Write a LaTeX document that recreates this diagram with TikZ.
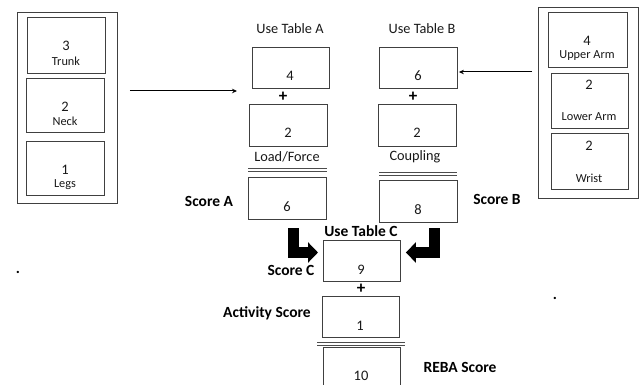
\documentclass[tikz,border=0pt]{standalone}
\usepackage{fontspec}
\setmainfont{Carlito}
\usetikzlibrary{arrows.meta}
\begin{document}
\begin{tikzpicture}[x=1pt,y=-1pt,
  box/.style={draw=black!75, line width=0.9pt, inner sep=0pt, anchor=north west},
  num/.style={font=\fontsize{14.5}{16}\selectfont, text=black!90, inner sep=0pt},
  small/.style={font=\fontsize{12.3}{14}\selectfont, text=black!90, inner sep=0pt},
  headtxt/.style={font=\fontsize{14.3}{16}\selectfont, text=black!90, inner sep=0pt},
  lbl/.style={font=\bfseries\fontsize{15.5}{17}\selectfont, text=black, inner sep=0pt},
  plus/.style={font=\bfseries\fontsize{17}{18}\selectfont, inner sep=0pt},
  dbl/.style={draw=black!70, line width=0.8pt},
  thin/.style={draw=black, line width=1pt, -{Stealth[length=5pt,width=4.5pt]}},
  bigarrow/.style={draw=black, line width=10.5pt, -{Triangle[length=10pt,width=20pt]}}
]
\clip (0,0) rectangle (643,385);
\fill[white] (0,0) rectangle (643,385);
% outer boxes
\node[box, minimum width=100pt, minimum height=191pt] (outerL) at (17,12) {};
\node[box, minimum width=78pt, minimum height=56pt] (trunk) at (27,17) {};
\node[box, minimum width=78pt, minimum height=54pt] (neck) at (26,78) {};
\node[box, minimum width=78pt, minimum height=54pt] (legs) at (26,141) {};
\node[num] (t3) at (66,46) {3};
\node[small] (tt) at (66,61) {Trunk};
\node[num] (n2) at (65,107) {2};
\node[small] (nt) at (65,121) {Neck};
\node[num] (l1) at (65,170) {1};
\node[small] (lt) at (65,185) {Legs};

\node[box, minimum width=100pt, minimum height=191pt] (outerR) at (538,7) {};
\node[box, minimum width=79pt, minimum height=55pt] (upper) at (548,12) {};
\node[box, minimum width=77pt, minimum height=55pt] (lower) at (551,73) {};
\node[box, minimum width=77pt, minimum height=56pt] (wrist) at (551,133) {};
\node[num] (u4) at (587,41) {4};
\node[small] (ut) at (587,56) {Upper Arm};
\node[num] (lo2) at (589,85) {2};
\node[small] (lot) at (589,117) {Lower Arm};
\node[num] (w2) at (589,146) {2};
\node[small] (wt) at (589,178) {Wrist};

% table A column
\node[headtxt] (ua) at (290,29) {Use Table A};
\node[box, minimum width=77pt, minimum height=41pt] (a1) at (252,47) {};
\node[num] (a1n) at (290,76) {4};
\node[plus] (pa) at (283,97) {+};
\node[box, minimum width=78pt, minimum height=42pt] (a2) at (249,104) {};
\node[num] (a2n) at (288,133) {2};
\node[headtxt] (lf) at (287,157) {Load/Force};
\draw[dbl] (248,168) -- (327,168) (248,171) -- (327,171);
\node[box, minimum width=78pt, minimum height=42pt] (sa) at (248,177) {};
\node[num] (san) at (287,207) {6};
\node[lbl] (sal) at (209,201) {Score A};

% table B column
\node[headtxt] (ub) at (422,29) {Use Table B};
\node[box, minimum width=78pt, minimum height=41pt] (b1) at (379,47) {};
\node[num] (b1n) at (418,76) {6};
\node[plus] (pb) at (413,97) {+};
\node[box, minimum width=78pt, minimum height=42pt] (b2) at (378,104) {};
\node[num] (b2n) at (417,133) {2};
\node[headtxt] (cp) at (415,157) {Coupling};
\draw[dbl] (379,172) -- (457,172) (379,175) -- (457,175);
\node[box, minimum width=78pt, minimum height=42pt] (sb) at (379,180) {};
\node[num] (sbn) at (418,210) {8};
\node[lbl] (sbl) at (497,199) {Score B};

% table C
\node[lbl] (uc) at (361,231) {Use Table C};
\node[box, minimum width=77pt, minimum height=41pt] (c) at (323,240) {};
\node[num] (cn) at (361,270) {9};
\node[lbl] (cl) at (291,270) {Score C};
\node[plus] (pc) at (361,289) {+};
\node[box, minimum width=77pt, minimum height=41pt] (act) at (322,296) {};
\node[num] (actn) at (360,326) {1};
\node[lbl] (actl) at (267,313) {Activity Score};
\draw[dbl] (317,342) -- (405,342) (317,345) -- (405,345);
\node[box, minimum width=77pt, minimum height=50pt] (reba) at (323,347) {};
\node[num] (reban) at (361,376) {10};
\node[lbl] (rebal) at (460,367) {REBA Score};

% dots
\node[lbl] (d1) at (18,272) {.};
\node[lbl] (d2) at (555,298) {.};

% thin arrows
\coordinate (la) at ([xshift=12pt]outerL.east |- 0,91);
\coordinate (lb) at ([xshift=-15pt]a1.west |- 0,91);
\draw[thin] (la) -- (lb);
\coordinate (ra) at ([xshift=-6pt]outerR.west |- 0,72);
\coordinate (rb) at ([xshift=1pt]b1.east |- 0,72);
\draw[thin] (ra) -- (rb);

% thick L arrows
\coordinate (sa0) at (293.5,228);
\coordinate (satip) at ([xshift=-5pt]c.west |- 0,252.5);
\draw[bigarrow] (sa0) |- (satip);
\coordinate (sb0) at (434.5,228);
\coordinate (sbtip) at ([xshift=5pt]c.east |- 0,252.5);
\draw[bigarrow] (sb0) |- (sbtip);
\end{tikzpicture}
\end{document}
